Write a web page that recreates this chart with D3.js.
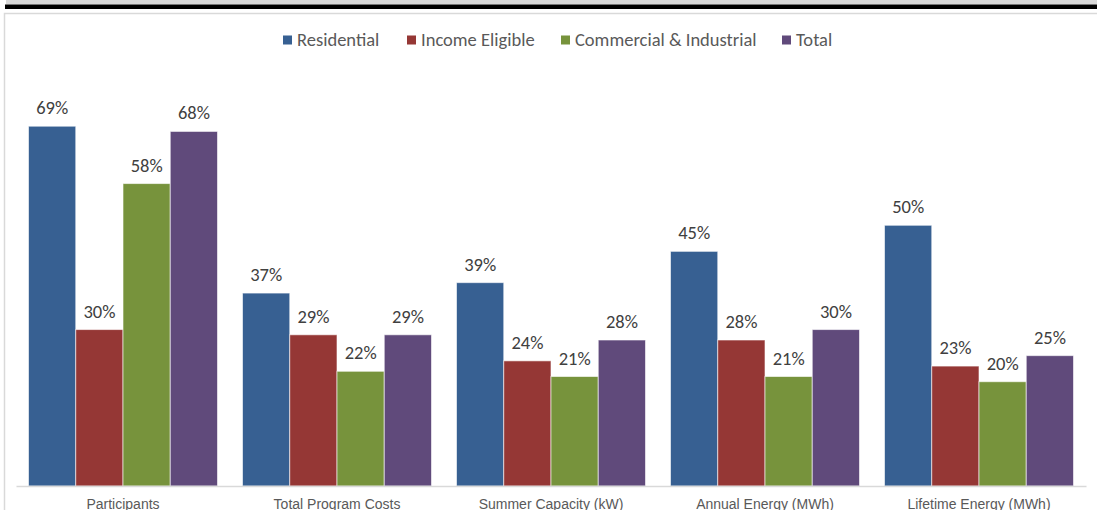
<!DOCTYPE html>
<html>
<head>
<meta charset="utf-8">
<script src="https://cdn.jsdelivr.net/npm/d3@7"></script>
<style>
  html, body { margin: 0; padding: 0; background: #fff; overflow: hidden; }
  svg { display: block; font-family: Carlito, Calibri, Lato, "Open Sans", sans-serif; }
</style>
</head>
<body>
<div id="chart"></div>
<script>
const categories = ['Participants', 'Total Program Costs', 'Summer Capacity (kW)', 'Annual Energy (MWh)', 'Lifetime Energy (MWh)'];
const seriesNames = ['Residential', 'Income Eligible', 'Commercial & Industrial', 'Total'];
const residential = [69, 37, 39, 45, 50];
const incomeEligible = [30, 29, 24, 28, 23];
const commercialIndustrial = [58, 22, 21, 21, 20];
const total = [68, 29, 28, 30, 25];
const seriesColors = ['#376092', '#953735', '#77933c', '#604a7b'];

const seriesValues = [residential, incomeEligible, commercialIndustrial, total];
const width = 1097, height = 510;
const baseY = 486;

const svg = d3.select('#chart').append('svg')
    .attr('width', width)
    .attr('height', height);

// page chrome: gray band, black rule, chart frame
svg.append('rect').attr('x', 6).attr('y', 0).attr('width', width - 6).attr('height', 4.5).attr('fill', '#d9d9d9');
svg.append('rect').attr('x', 5).attr('y', 4.5).attr('width', width - 5).attr('height', 4.5).attr('fill', '#000');
svg.append('path')
    .attr('d', `M4.5,${height + 5}V13.5H${width + 5}`)
    .attr('fill', 'none')
    .attr('stroke', '#d9d9d9')
    .attr('stroke-width', 1.5);

const x0 = d3.scaleBand().domain(categories).range([16, 1086]);
const x1 = d3.scaleBand().domain(seriesNames).range([12.5, x0.bandwidth() - 12.5]);
const y = d3.scaleLinear().domain([0, 70]).range([baseY, baseY - 365]);

const rows = categories.map((c, i) => ({
    category: c,
    values: seriesNames.map((s, j) => ({ series: s, value: seriesValues[j][i], color: seriesColors[j] }))
}));

const group = svg.append('g')
    .selectAll('g')
    .data(rows)
    .join('g')
    .attr('transform', d => `translate(${x0(d.category)},0)`);

group.selectAll('rect')
    .data(d => d.values)
    .join('rect')
    .attr('x', d => x1(d.series))
    .attr('y', d => y(d.value))
    .attr('width', x1.bandwidth())
    .attr('height', d => baseY - y(d.value))
    .attr('fill', d => d.color)
    .attr('stroke', '#fff')
    .attr('stroke-opacity', 0.6)
    .attr('stroke-width', 1);

group.selectAll('text')
    .data(d => d.values)
    .join('text')
    .attr('x', d => x1(d.series) + x1.bandwidth() / 2)
    .attr('y', d => y(d.value) - 12)
    .attr('text-anchor', 'middle')
    .attr('font-size', 18.5)
    .attr('fill', '#404040')
    .text(d => d.value + '%');

// category axis
const xAxis = svg.append('g')
    .attr('transform', `translate(0,${baseY})`)
    .call(d3.axisBottom(x0).tickSize(0).tickPadding(13));
xAxis.select('.domain').attr('stroke', '#d9d9d9').attr('stroke-width', 1.5);
xAxis.selectAll('text')
    .attr('font-family', null)
    .attr('font-size', 14)
    .attr('fill', '#595959');

// legend
const legendX = [283, 407, 561, 782];
const legend = svg.append('g')
    .selectAll('g')
    .data(seriesNames)
    .join('g')
    .attr('transform', (d, i) => `translate(${legendX[i]},40)`);
legend.append('rect')
    .attr('x', 0).attr('y', -4.5)
    .attr('width', 9).attr('height', 9)
    .attr('fill', (d, i) => seriesColors[i]);
legend.append('text')
    .attr('x', 14)
    .attr('dy', '0.35em')
    .attr('font-size', 18.5)
    .attr('fill', '#595959')
    .text(d => d);
</script>
</body>
</html>
